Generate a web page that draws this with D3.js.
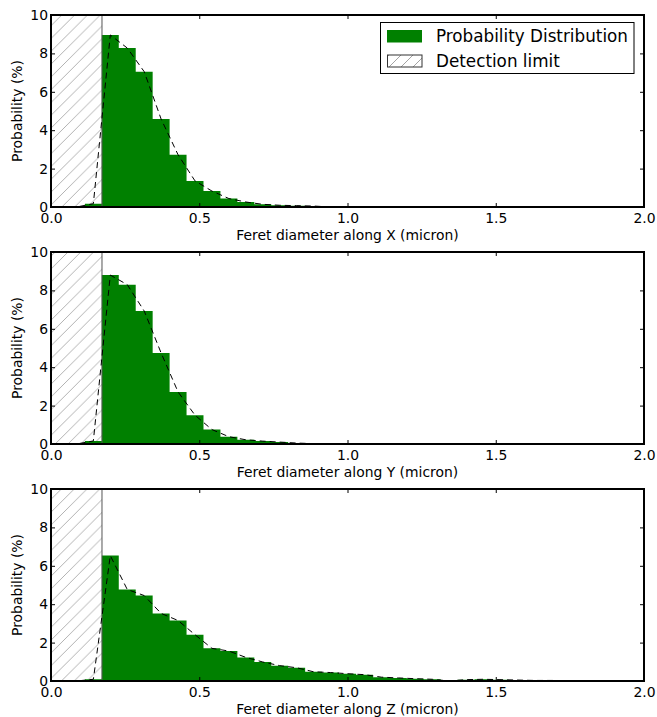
<!DOCTYPE html>
<html>
	<head>
		<meta charset="utf-8">
		<title>Feret diameter distributions</title>
		<script src="https://d3js.org/d3.v7.min.js"></script>
		<style>
			html, body
			{
				margin: 0;
				background: #fff;
			}

			svg text
			{
				font-family: "DejaVu Sans", sans-serif;
				fill: #000;
			}

			.axis path.domain
			{
				display: none;
			}

			.axis line
			{
				stroke: #000;
				stroke-width: 1;
			}
		</style>
	</head>
	<body>
		<svg id="chart" width="657" height="717"></svg>

		<script>
			// histogram bins: width 2/35 micron, starting at 0
			const binWidth = 2 / 35;
			const detectionLimit = 0.172;

			// probability (%) per bin, bin 0 = [0, 0.057)
			const probX = [0, 0, 0.17, 8.96, 8.28, 7.05, 4.58, 2.72, 1.36, 0.83, 0.44, 0.26, 0.14, 0.09, 0.07, 0.05];
			const probY = [0, 0, 0.16, 8.80, 8.30, 6.93, 4.74, 2.71, 1.50, 0.75, 0.38, 0.22, 0.15, 0.10, 0.05, 0.02];
			const probZ = [0, 0, 0.09, 6.53, 4.77, 4.45, 3.52, 3.15, 2.41, 1.70, 1.56, 1.23, 0.99, 0.80, 0.69, 0.48,
				0.44, 0.38, 0.33, 0.20, 0.16, 0.12, 0.09, 0, 0.07, 0.09, 0.07, 0.05, 0.03, 0.03, 0.02];

			const panels = [
				{values: probX, label: "Feret diameter along X (micron)", legend: true},
				{values: probY, label: "Feret diameter along Y (micron)", legend: false},
				{values: probZ, label: "Feret diameter along Z (micron)", legend: false}
			];

			const xTicks = [0, 0.5, 1.0, 1.5, 2.0];
			const yTicks = [0, 2, 4, 6, 8, 10];

			const legendItems = ["Probability Distribution", "Detection limit"];

			// layout
			const left = 51, right = 644;
			const panelTops = [15, 252, 489];
			const panelHeight = 192;
			const green = "#008000";

			const svg = d3.select("#chart");

			// hatch pattern for the detection limit
			const defs = svg.append("defs");
			const hatch = defs.append("pattern")
				.attr("id", "hatch")
				.attr("patternUnits", "userSpaceOnUse")
				.attr("width", 12.8)
				.attr("height", 12.8);
			hatch.append("path")
				.attr("d", "M-3.2,3.2L3.2,-3.2M0,12.8L12.8,0M9.6,16L16,9.6")
				.attr("stroke", "#aaa")
				.attr("stroke-width", 0.9)
				.attr("fill", "none");

			const legendHatch = defs.append("pattern")
				.attr("id", "hatch-small")
				.attr("patternUnits", "userSpaceOnUse")
				.attr("width", 12)
				.attr("height", 12);
			legendHatch.append("path")
				.attr("d", "M-3,3L3,-3M0,12L12,0M9,15L15,9")
				.attr("stroke", "#999")
				.attr("stroke-width", 0.9)
				.attr("fill", "none");

			const x = d3.scaleLinear().domain([0, 2]).range([left, right]);

			panels.forEach((p, i) =>
			{
				const top = panelTops[i];
				const y = d3.scaleLinear().domain([0, 10]).range([top + panelHeight, top]);

				const g = svg.append("g");

				// detection limit region
				g.append("rect")
					.attr("x", x(0))
					.attr("y", y(10))
					.attr("width", x(detectionLimit) - x(0))
					.attr("height", y(0) - y(10))
					.attr("fill", "url(#hatch)");

				// histogram as a filled step shape
				const steps = p.values.map((v, k) => ({x0: k * binWidth, v: v}));
				steps.push({x0: p.values.length * binWidth, v: p.values[p.values.length - 1]});

				g.append("path")
					.datum(steps)
					.attr("fill", green)
					.attr("d", d3.area()
						.curve(d3.curveStepAfter)
						.x(d => x(d.x0))
						.y0(y(0))
						.y1(d => y(d.v)));

				// edge of the detection limit
				g.append("line")
					.attr("x1", x(detectionLimit))
					.attr("x2", x(detectionLimit))
					.attr("y1", y(0))
					.attr("y2", y(10))
					.attr("stroke", "#555")
					.attr("stroke-width", 1);

				// dashed curve through the bin centres
				const centres = p.values.map((v, k) => ({c: (k + 0.5) * binWidth, v: v}));
				centres.push({c: (p.values.length + 0.5) * binWidth, v: 0});

				g.append("path")
					.datum(centres)
					.attr("fill", "none")
					.attr("stroke", "#000")
					.attr("stroke-width", 1)
					.attr("stroke-dasharray", "6,4")
					.attr("d", d3.line()
						.x(d => x(d.c))
						.y(d => y(d.v)));

				// axes with inward ticks
				g.append("g")
					.attr("class", "axis")
					.attr("transform", `translate(0,${y(0)})`)
					.call(d3.axisBottom(x).tickValues(xTicks).tickSizeInner(-4).tickSizeOuter(0)
						.tickPadding(6.5).tickFormat(d3.format(".1f")))
					.selectAll("text").style("font-size", "13.9px");

				g.append("g")
					.attr("class", "axis")
					.attr("transform", `translate(0,${y(10)})`)
					.call(d3.axisTop(x).tickValues(xTicks).tickSizeInner(-4).tickSizeOuter(0).tickFormat(""));

				g.append("g")
					.attr("class", "axis")
					.attr("transform", `translate(${left},0)`)
					.call(d3.axisLeft(y).tickValues(yTicks).tickSizeInner(-4).tickSizeOuter(0)
						.tickPadding(3).tickFormat(d3.format("d")))
					.selectAll("text").style("font-size", "13.9px");

				g.append("g")
					.attr("class", "axis")
					.attr("transform", `translate(${right},0)`)
					.call(d3.axisRight(y).tickValues(yTicks).tickSizeInner(-4).tickSizeOuter(0).tickFormat(""));

				// frame
				g.append("rect")
					.attr("x", left)
					.attr("y", top)
					.attr("width", right - left)
					.attr("height", panelHeight)
					.attr("fill", "none")
					.attr("stroke", "#000")
					.attr("stroke-width", 2);

				// axis labels
				g.append("text")
					.attr("x", (left + right) / 2)
					.attr("y", y(0) + 33)
					.attr("text-anchor", "middle")
					.style("font-size", "13.9px")
					.text(p.label);

				g.append("text")
					.attr("transform", `translate(22,${top + panelHeight / 2}) rotate(-90)`)
					.attr("text-anchor", "middle")
					.style("font-size", "13.9px")
					.text("Probability (%)");

				if (p.legend)
				{
					const lg = g.append("g");
					lg.append("rect")
						.attr("x", 380.5)
						.attr("y", 22.5)
						.attr("width", 253.5)
						.attr("height", 51)
						.attr("fill", "#fff")
						.attr("stroke", "#000")
						.attr("stroke-width", 1);

					lg.append("rect")
						.attr("x", 387)
						.attr("y", 30)
						.attr("width", 35)
						.attr("height", 12.5)
						.attr("fill", green);

					lg.append("rect")
						.attr("x", 387.5)
						.attr("y", 55)
						.attr("width", 34.5)
						.attr("height", 12)
						.attr("fill", "url(#hatch-small)")
						.attr("stroke", "#333")
						.attr("stroke-width", 1);

					lg.selectAll("text.legend")
						.data(legendItems)
						.enter().append("text")
							.attr("class", "legend")
							.attr("x", 436)
							.attr("y", (d, k) => 42.3 + k * 24.3)
							.style("font-size", "16.8px")
							.text(d => d);
				}
			});
		</script>
	</body>
</html>
